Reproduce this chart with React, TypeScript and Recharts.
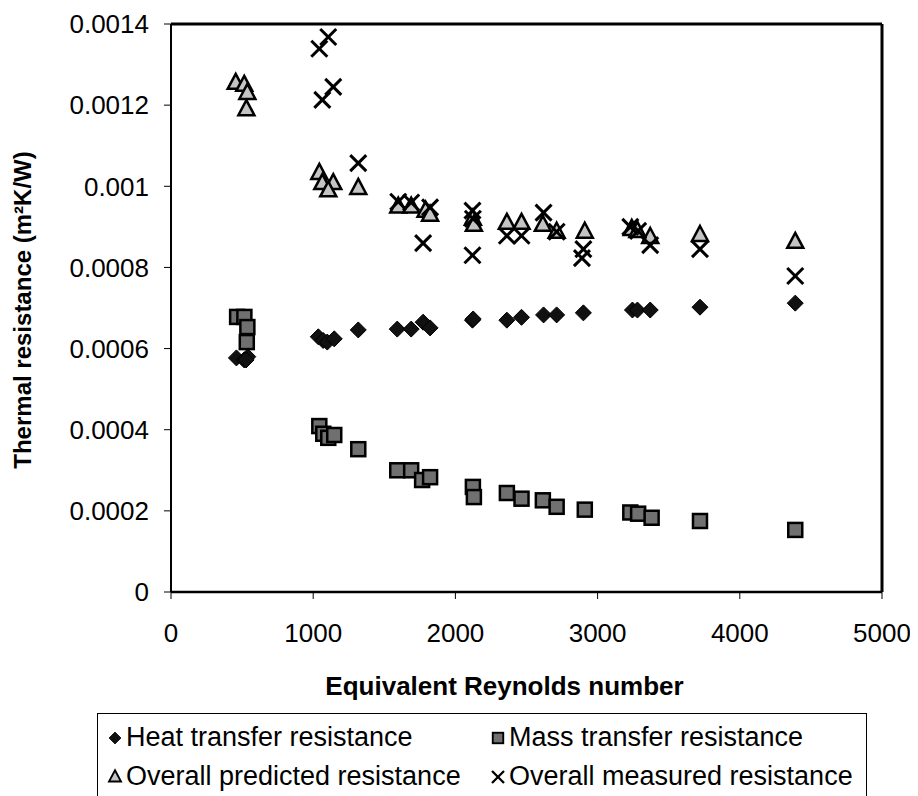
import {
  ScatterChart,
  Scatter,
  XAxis,
  YAxis,
  Legend,
  ReferenceLine
} from 'recharts';

// Reynolds numbers and resistances
const heatRe = [460, 515, 540, 528, 1036, 1070, 1099, 1148, 1317, 1591, 1689, 1773, 1822, 2120, 2125, 2362, 2465, 2620, 2712, 2900, 3245, 3280, 3370, 3720, 4390];
const heatR = [0.000577, 0.000572, 0.00058, 0.000572, 0.000629, 0.00062, 0.000616, 0.000624, 0.000646, 0.000648, 0.000648, 0.000665, 0.000651, 0.00067, 0.000673, 0.00067, 0.000677, 0.000683, 0.000683, 0.000688, 0.000695, 0.000695, 0.000695, 0.000702, 0.000712];

const massRe = [465, 516, 537, 533, 1043, 1071, 1106, 1148, 1317, 1591, 1689, 1766, 1822, 2123, 2130, 2362, 2465, 2615, 2712, 2910, 3230, 3285, 3380, 3720, 4390];
const massR = [0.000678, 0.000678, 0.000653, 0.000616, 0.000409, 0.00039, 0.00038, 0.000387, 0.000352, 0.0003, 0.0003, 0.000276, 0.000283, 0.000259, 0.000234, 0.000244, 0.00023, 0.000226, 0.00021, 0.000203, 0.000196, 0.000193, 0.000183, 0.000175, 0.000153];

const predRe = [455, 515, 537, 530, 1043, 1064, 1141, 1106, 1317, 1598, 1689, 1790, 1822, 2123, 2130, 2362, 2465, 2615, 2712, 2910, 3240, 3280, 3370, 3720, 4390];
const predR = [0.001255, 0.00125, 0.00123, 0.00119, 0.001033, 0.001008, 0.001008, 0.00099, 0.000996, 0.00095, 0.00095, 0.00094, 0.00093, 0.00092, 0.000905, 0.00091, 0.00091, 0.000905, 0.000888, 0.000888, 0.000895, 0.00089, 0.000875, 0.00088, 0.000863];

const measRe = [1106, 1043, 1141, 1064, 1317, 1598, 1689, 1773, 1822, 2120, 2123, 2120, 2362, 2465, 2620, 2712, 2900, 2890, 3230, 3285, 3370, 3720, 4390];
const measR = [0.001368, 0.001339, 0.001245, 0.001213, 0.001057, 0.000962, 0.00096, 0.00086, 0.000948, 0.00094, 0.00092, 0.00083, 0.000878, 0.000878, 0.000935, 0.000888, 0.000845, 0.000823, 0.0009, 0.00089, 0.000855, 0.000845, 0.000779];

const xTicks = [0, 1000, 2000, 3000, 4000, 5000];
const yTicks = [0, 0.0002, 0.0004, 0.0006, 0.0008, 0.001, 0.0012, 0.0014];

const toPoints = (re: number[], r: number[]) => re.map((x, i) => ({ re: x, r: r[i] }));

const heat = toPoints(heatRe, heatR);
const mass = toPoints(massRe, massR);
const pred = toPoints(predRe, predR);
const meas = toPoints(measRe, measR);

const FONT = '"Liberation Sans", Arial, sans-serif';

const Diamond = ({ cx, cy }: any) => (
  <polygon points={`${cx},${cy - 8} ${cx + 8},${cy} ${cx},${cy + 8} ${cx - 8},${cy}`} fill="#111" stroke="#000" strokeWidth={1} />
);
const Square = ({ cx, cy }: any) => (
  <rect x={cx - 7} y={cy - 7} width={14} height={14} fill="#707070" stroke="#000" strokeWidth={2.5} />
);
const Triangle = ({ cx, cy }: any) => (
  <polygon points={`${cx},${cy - 9} ${cx + 8},${cy + 6} ${cx - 8},${cy + 6}`} fill="#c4c4c4" stroke="#000" strokeWidth={2.5} />
);
const Cross = ({ cx, cy }: any) => (
  <g stroke="#000" strokeWidth={3}>
    <line x1={cx - 8} y1={cy - 8} x2={cx + 8} y2={cy + 8} />
    <line x1={cx - 8} y1={cy + 8} x2={cx + 8} y2={cy - 8} />
  </g>
);

const legendItems = [
  { name: 'Heat transfer resistance', Shape: Diamond },
  { name: 'Mass transfer resistance', Shape: Square },
  { name: 'Overall predicted resistance', Shape: Triangle },
  { name: 'Overall measured resistance', Shape: Cross }
];

const LegendBox = () => (
  <div
    style={{
      border: '1.5px solid #000',
      width: 770,
      height: 100,
      boxSizing: 'border-box',
      display: 'grid',
      gridTemplateColumns: '383px 380px',
      gridAutoRows: '39px',
      paddingTop: 4,
      paddingLeft: 8,
      fontFamily: FONT,
      fontSize: 27,
      color: '#000'
    }}
  >
    {legendItems.map(({ name, Shape }) => (
      <div key={name} style={{ display: 'flex', alignItems: 'center', whiteSpace: 'nowrap' }}>
        <svg width={18} height={20} style={{ marginRight: 2 }}>
          <g transform="translate(1.5,2.5) scale(0.75)">
            <Shape cx={10} cy={10} />
          </g>
        </svg>
        {name}
      </div>
    ))}
  </div>
);

const fmt = (v: number) => String(parseFloat(v.toFixed(4)));

export default function App() {
  return (
    <ScatterChart
      width={902}
      height={788}
      margin={{ top: 16, right: 28, left: 63, bottom: 94 }}
      style={{ fontFamily: FONT }}
    >
      <XAxis
        type="number"
        dataKey="re"
        domain={[0, 5000]}
        ticks={xTicks}
        allowDataOverflow
        height={110}
        tickSize={7}
        tickMargin={25}
        stroke="#000"
        axisLine={{ stroke: '#000', strokeWidth: 2.5 }}
        tick={{ fill: '#000', fontSize: 26 }}
        label={(props: any) => {
          const vb = props.viewBox || { x: 163, y: 584, width: 711 };
          return (
            <text x={vb.x + vb.width / 2 - 22} y={vb.y + 103} textAnchor="middle" fontWeight="bold" fontSize={26} fill="#000">
              Equivalent Reynolds number
            </text>
          );
        }}
      />
      <YAxis
        type="number"
        dataKey="r"
        domain={[0, 0.0014]}
        ticks={yTicks}
        allowDataOverflow
        width={100}
        tickSize={7}
        tickMargin={15}
        stroke="#000"
        axisLine={{ stroke: '#000', strokeWidth: 2 }}
        tick={{ fill: '#000', fontSize: 26 }}
        tickFormatter={fmt}
        label={(props: any) => {
          const vb = props.viewBox || { x: 63, y: 16, height: 568 };
          const cx = 14;
          const cy = vb.y + vb.height / 2 + 2;
          return (
            <text x={cx} y={cy} transform={`rotate(-90 ${cx} ${cy})`} textAnchor="middle" dominantBaseline="central" fontWeight="bold" fontSize={24} fill="#000">
              Thermal resistance (m²K/W)
            </text>
          );
        }}
      />
      <ReferenceLine y={0.0014} stroke="#000" strokeWidth={3} />
      <ReferenceLine x={5000} stroke="#000" strokeWidth={3} />
      <Scatter name="Heat transfer resistance" data={heat} shape={Diamond} isAnimationActive={false} />
      <Scatter name="Mass transfer resistance" data={mass} shape={Square} isAnimationActive={false} />
      <Scatter name="Overall predicted resistance" data={pred} shape={Triangle} isAnimationActive={false} />
      <Scatter name="Overall measured resistance" data={meas} shape={Cross} isAnimationActive={false} />
      <Legend
        layout="horizontal"
        verticalAlign="middle"
        align="center"
        content={() => <LegendBox />}
        wrapperStyle={{ left: 89, top: 705, width: 772 }}
      />
    </ScatterChart>
  );
}
